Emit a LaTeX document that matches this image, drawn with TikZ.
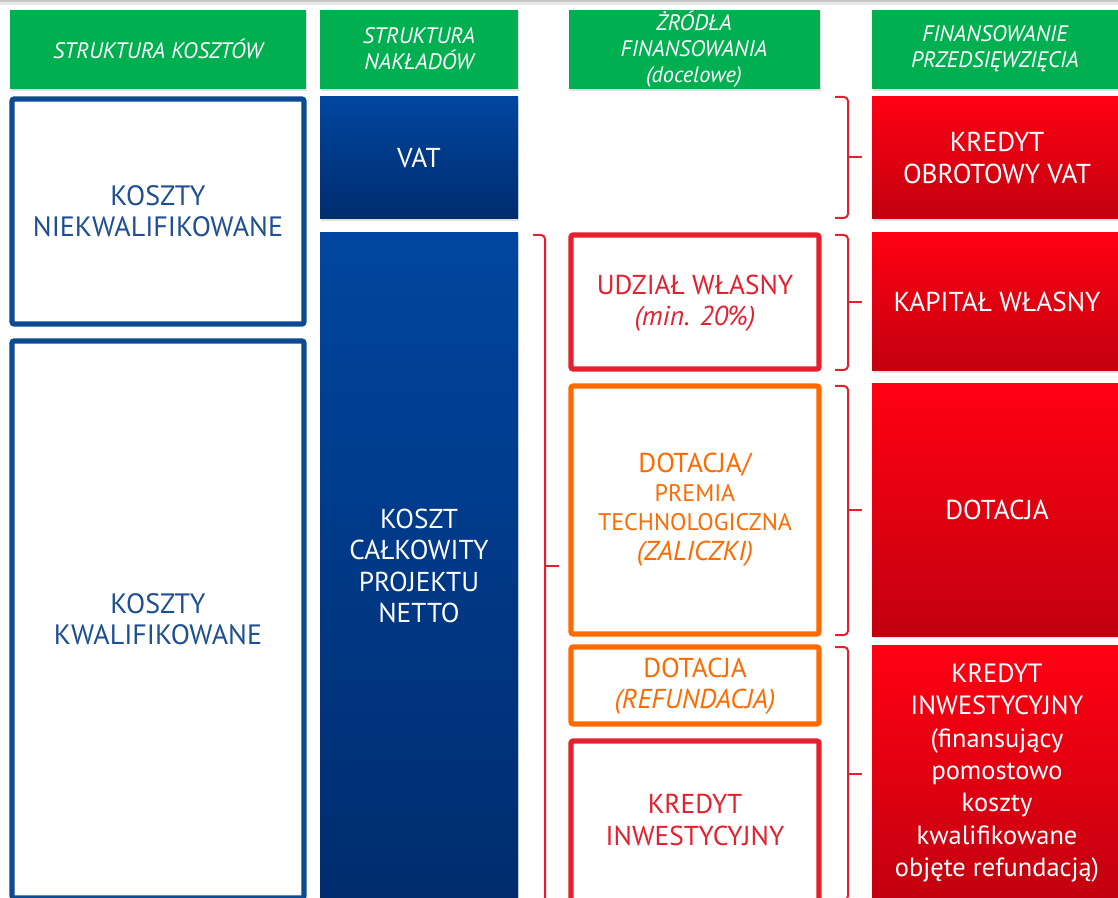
\documentclass[tikz,border=0pt]{standalone}
\usepackage{fontspec}
\setmainfont{PT Sans}
\usetikzlibrary{fit,shadows}
\definecolor{hdrgreen}{HTML}{00B050}
\definecolor{bluetop}{HTML}{0046A0}
\definecolor{bluebot}{HTML}{002C6E}
\definecolor{blueline}{HTML}{0C4A92}
\definecolor{bluetext}{HTML}{1D4F91}
\definecolor{redtop}{HTML}{FF0012}
\definecolor{redbot}{HTML}{C2000F}
\definecolor{redline}{HTML}{E5202E}
\definecolor{orangeline}{HTML}{FF6A00}
\tikzset{
  shd/.style={drop shadow={opacity=0.25, shadow xshift=1pt, shadow yshift=-1.5pt}},
  hdrbox/.style={fit={#1}, inner sep=0pt, fill=hdrgreen, shd},
  outbox/.style={fit={#1}, inner sep=0pt, draw=blueline, line width=3.8pt, rounded corners=1.5pt, fill=white},
  bluebox/.style={fit={#1}, inner sep=0pt, top color=bluetop, bottom color=bluebot, shd},
  redbox/.style={fit={#1}, inner sep=0pt, top color=redtop, bottom color=redbot, shd},
  srcred/.style={fit={#1}, inner sep=0pt, draw=redline, line width=3.8pt, rounded corners=1.5pt, fill=white},
  srcorange/.style={fit={#1}, inner sep=0pt, draw=orangeline, line width=3.8pt, rounded corners=1.5pt, fill=white},
  hdrtxt/.style={text=white, align=center, inner sep=0pt, font=\fontsize{16.8}{19.5}\selectfont\itshape},
  bigtxt/.style={align=center, inner sep=0pt, font=\fontsize{20.5}{23.5}\selectfont},
  brc/.style={draw=redline, line width=1.5pt, rounded corners=3pt}
}
\begin{document}
\begin{tikzpicture}[x=0.75pt,y=-0.75pt]
\useasboundingbox (0,0) rectangle (1118,898);
\clip (0,0) rectangle (1118,898);
% top band
\fill[gray!45] (0,0) rectangle (1118,2.5);
\fill[gray!18] (0,2.5) rectangle (1118,5);
% headers
\node[hdrbox={(10,10) (306,89)}] (h1) {};
\node[hdrbox={(320,10) (518,89)}] (h2) {};
\node[hdrbox={(569,10) (820,89)}] (h3) {};
\node[hdrbox={(872,10) (1122,89)}] (h4) {};
\node[hdrtxt] (h1t) at (158,49) {STRUKTURA KOSZTÓW};
\node[hdrtxt] (h2t) at (419,49) {STRUKTURA\\NAKŁADÓW};
\node[hdrtxt] (h3t) at (694,49) {ŻRÓDŁA\\FINANSOWANIA\\(docelowe)};
\node[hdrtxt] (h4t) at (995,49) {FINANSOWANIE\\PRZEDSIĘWZIĘCIA};
% column 1
\node[outbox={(12,99) (304,324)}] (nk) {};
\node[outbox={(12,341) (304,898)}] (kw) {};
\node[bigtxt, text=bluetext, font=\fontsize{21}{23.5}\selectfont] (nkt) at (158,211) {KOSZTY\\NIEKWALIFIKOWANE};
\node[bigtxt, text=bluetext, font=\fontsize{21}{23.5}\selectfont] (kwt) at (158,619) {KOSZTY\\KWALIFIKOWANE};
% column 2
\node[bluebox={(320,97) (518,219)}] (vat) {};
\node[bluebox={(320,233) (518,899)}] (kc) {};
\node[bigtxt, text=white] (vatt) at (419,158) {VAT};
\node[bigtxt, text=white] (kct) at (419,566) {KOSZT\\CAŁKOWITY\\PROJEKTU\\NETTO};
% column 3
\node[srcred={(571,235) (819,369)}] (uw) {};
\node[srcorange={(571,386) (819,634)}] (dt) {};
\node[srcorange={(571,647) (819,724)}] (dr) {};
\node[srcred={(571,741) (819,901)}] (ki) {};
\node[bigtxt, text=redline] (uwt) at (695,303) {UDZIAŁ WŁASNY\\\textit{(min. 20\%)}};
\node[bigtxt, text=orangeline, font=\fontsize{20.5}{21.8}\selectfont] (dtt) at (695,510) {DOTACJA/\\{\fontsize{18}{21.8}\selectfont PREMIA}\\{\fontsize{18}{21.8}\selectfont TECHNOLOGICZNA}\\[1pt]\textit{(ZALICZKI)}};
\node[bigtxt, text=orangeline] (drt) at (695,686) {DOTACJA\\\textit{(REFUNDACJA)}};
\node[bigtxt, text=redline] (kit) at (695,820) {KREDYT\\INWESTYCYJNY};
% column 4
\node[redbox={(872,97) (1122,219)}] (ko) {};
\node[redbox={(872,233) (1122,371)}] (kp) {};
\node[redbox={(872,384) (1122,636)}] (do) {};
\node[redbox={(872,645) (1122,901)}] (kr) {};
\node[bigtxt, text=white] (kot) at (997,158) {KREDYT\\OBROTOWY VAT};
\node[bigtxt, text=white] (kpt) at (997,302) {KAPITAŁ WŁASNY};
\node[bigtxt, text=white] (dot) at (997,510) {DOTACJA};
\node[bigtxt, text=white, font=\fontsize{19.8}{24.3}\selectfont] (krt) at (997,773) {KREDYT\\INWESTYCYJNY\\(finansujący\\pomostowo\\koszty\\kwalifikowane\\objęte refundacją)};
% left brace
\draw[brc] (533,235) -- (545,235) -- (545,905);
\draw[redline, line width=1.5pt] (545,566) -- (559,566);
% right braces
\foreach \a/\b in {97/218, 235/370, 386/635, 647/900}{
  \draw[brc] (835,\a) -- (848,\a) -- (848,\b) -- (835,\b);
  \draw[redline, line width=1.5pt] (848,{(\a+\b)/2}) -- (862,{(\a+\b)/2});
}
\end{tikzpicture}
\end{document}
